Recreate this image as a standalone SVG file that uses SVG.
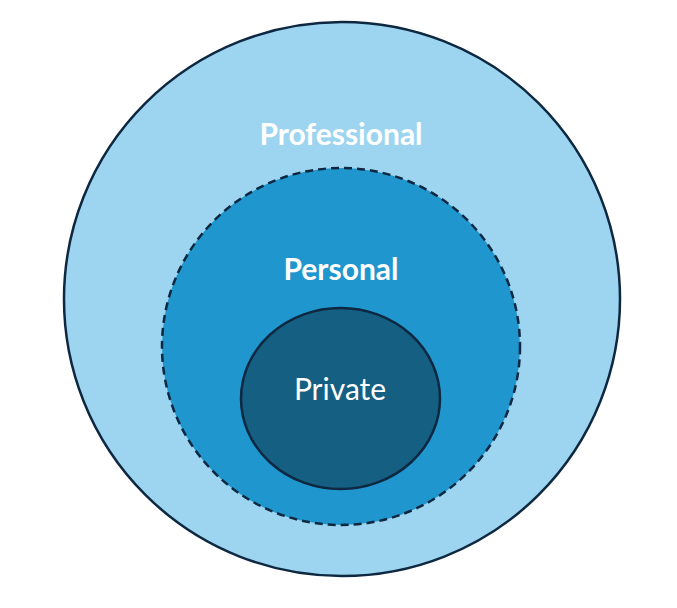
<svg xmlns="http://www.w3.org/2000/svg" width="677" height="608" viewBox="0 0 677 608">
<style>
.c{stroke:#0E2841;stroke-width:2.5}
.t{font-family:Lato,"Liberation Sans",sans-serif;font-size:30px;fill:#fff;text-anchor:middle;dominant-baseline:central}
</style>
<rect width="677" height="608" fill="#fff"/>
<g id="professional"><ellipse class="c" cx="342" cy="299" rx="278" ry="277" fill="#9DD5F0"/><text class="t" x="341" y="133" font-weight="bold">Professional</text></g>
<g id="personal"><ellipse class="c" cx="341" cy="346.5" rx="179" ry="178.5" fill="#1F96CD" stroke-dasharray="8,5"/><text class="t" x="341" y="268" font-weight="bold">Personal</text></g>
<g id="private"><ellipse class="c" cx="340.5" cy="398.5" rx="99.5" ry="90.5" fill="#155F82"/><text class="t" x="340" y="388">Private</text></g>
<g id="connectors"/>
</svg>
